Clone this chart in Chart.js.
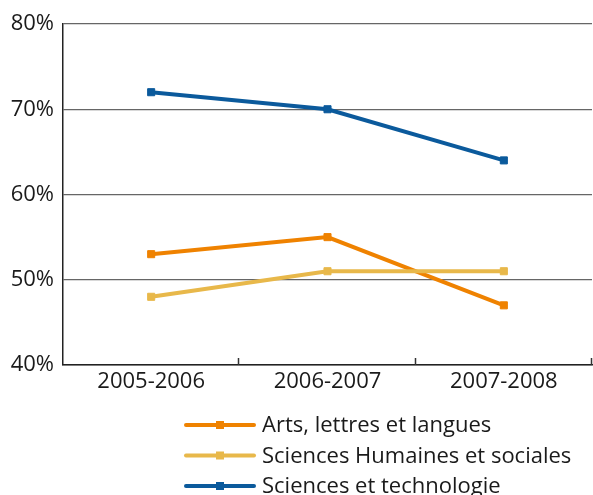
<!DOCTYPE html>
<html>
<head>
<meta charset="utf-8">
<script src="https://cdn.jsdelivr.net/npm/chart.js@4/dist/chart.umd.min.js"></script>
<style>
  html, body { margin: 0; padding: 0; background: #fff; }
  canvas { display: block; }
</style>
</head>
<body>
<canvas id="chart" width="593" height="495"></canvas>
<script>
// Academic years on the horizontal axis
const years = ['2005-2006', '2006-2007', '2007-2008'];

// Share (%) per field of study
const artsLettres = [53, 55, 47];
const sciencesHumaines = [48, 51, 51];
const sciencesTechno = [72, 70, 64];

const seriesNames = ['Arts, lettres et langues', 'Sciences Humaines et sociales', 'Sciences et technologie'];
const seriesColors = ['#EF8200', '#E8B84A', '#0B5A9C'];

const yTicks = [40, 50, 60, 70, 80];

Chart.defaults.font.family = "'Open Sans', 'DejaVu Sans', sans-serif";
Chart.defaults.color = '#1a1a1a';

// Small inward tick marks on the category axis, at the category boundaries
const axisTicks = {
  id: 'axisTicks',
  afterDraw(chart) {
    const x = chart.scales.x;
    const ctx = chart.ctx;
    const n = chart.data.labels.length;
    ctx.save();
    ctx.strokeStyle = '#333';
    ctx.lineWidth = 1.5;
    for (let i = 1; i <= n; i++) {
      const px = Math.min(Math.round(x.left + (x.right - x.left) * i / n) - 0.5, chart.width - 1);
      ctx.beginPath();
      ctx.moveTo(px, x.top);
      ctx.lineTo(px, x.top - 7);
      ctx.stroke();
    }
    ctx.restore();
  }
};

// Stacked legend under the plot: line sample with a square marker, then the name
const lineLegend = {
  id: 'lineLegend',
  afterDraw(chart) {
    const ctx = chart.ctx;
    const area = chart.chartArea;
    const x0 = area.left + 123;
    const lineLen = 68;
    ctx.save();
    chart.data.datasets.forEach((ds, i) => {
      const y = area.bottom + 60 + i * 30.5;
      ctx.strokeStyle = ds.borderColor;
      ctx.lineWidth = 4;
      ctx.lineCap = 'round';
      ctx.beginPath();
      ctx.moveTo(x0, y);
      ctx.lineTo(x0 + lineLen, y);
      ctx.stroke();
      ctx.fillStyle = ds.borderColor;
      ctx.fillRect(x0 + lineLen / 2 - 4, y - 4, 8, 8);
      ctx.fillStyle = '#1a1a1a';
      ctx.font = "22px 'Open Sans', 'DejaVu Sans', sans-serif";
      ctx.textBaseline = 'middle';
      ctx.textAlign = 'left';
      ctx.fillText(ds.label, x0 + lineLen + 8, y + 1);
    });
    ctx.restore();
  }
};

function series(i, values, order) {
  return {
    label: seriesNames[i],
    data: values,
    borderColor: seriesColors[i],
    backgroundColor: seriesColors[i],
    borderWidth: 4,
    pointStyle: 'rect',
    pointRadius: 5,
    pointBorderWidth: 1,
    pointBorderColor: seriesColors[i],
    pointBackgroundColor: seriesColors[i],
    tension: 0,
    order: order
  };
}

new Chart(document.getElementById('chart'), {
  type: 'line',
  data: {
    labels: years,
    datasets: [
      series(0, artsLettres, 1),
      series(1, sciencesHumaines, 0),
      series(2, sciencesTechno, 2)
    ]
  },
  options: {
    responsive: false,
    animation: false,
    layout: { autoPadding: false, padding: { top: 24, right: 1, left: 0, bottom: 0 } },
    plugins: {
      legend: { display: false },
      tooltip: { enabled: false }
    },
    scales: {
      x: {
        offset: true,
        grid: { drawOnChartArea: false, drawTicks: false },
        border: { display: true, color: '#222', width: 1.5 },
        ticks: { font: { size: 22 }, padding: 4, color: '#1a1a1a' },
        afterFit(scale) {
          scale.height = 130;
          scale.paddingLeft = 0;
          scale.paddingRight = 0;
        }
      },
      y: {
        min: yTicks[0],
        max: yTicks[yTicks.length - 1],
        afterBuildTicks(scale) { scale.ticks = yTicks.map(v => ({ value: v })); },
        grid: { color: '#666', lineWidth: 1.3, drawTicks: false },
        border: { display: true, color: '#222', width: 1.5 },
        ticks: {
          font: { size: 22 },
          padding: 9,
          color: '#1a1a1a',
          callback: v => v + '%'
        },
        afterFit(scale) { scale.width = 63; }
      }
    }
  },
  plugins: [axisTicks, lineLegend]
});
</script>
</body>
</html>
